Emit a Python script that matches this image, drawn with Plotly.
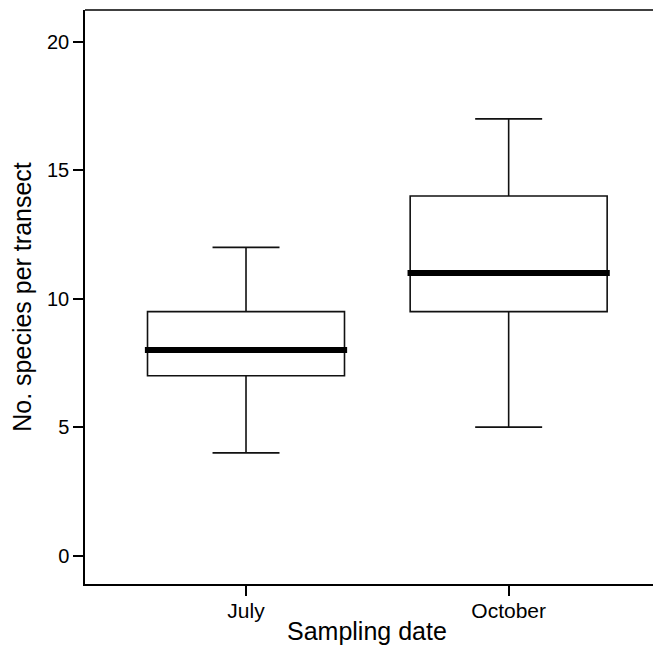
import plotly.graph_objects as go

categories = ["July", "October"]
positions = [1, 2]
lower_whisker = [4, 5]
q1 = [7, 9.5]
median = [8, 11]
q3 = [9.5, 14]
upper_whisker = [12, 17]
y_ticks = [0, 5, 10, 15, 20]

BOX_W = 0.75
FONT = "Liberation Sans, Arial, sans-serif"

fig = go.Figure()
for i, cat in enumerate(categories):
    fig.add_trace(go.Box(
        x=[positions[i]], q1=[q1[i]], median=[median[i]], q3=[q3[i]],
        lowerfence=[lower_whisker[i]], upperfence=[upper_whisker[i]],
        width=BOX_W, whiskerwidth=0.34, fillcolor="rgba(0,0,0,0)",
        line=dict(color="#111111", width=1.6), boxpoints=False,
        hoverinfo="skip", showlegend=False, name=cat,
    ))
    fig.add_trace(go.Scatter(
        x=[positions[i] - BOX_W / 2 - 0.01, positions[i] + BOX_W / 2 + 0.01],
        y=[median[i], median[i]], mode="lines",
        line=dict(color="black", width=6), hoverinfo="skip", showlegend=False,
    ))

fig.add_shape(type="line", xref="paper", yref="paper", x0=0, x1=1, y0=1, y1=1,
              line=dict(color="black", width=1.5))

fig.update_layout(
    width=653, height=639,
    margin=dict(l=77, r=0, t=2, b=63),
    paper_bgcolor="white", plot_bgcolor="white",
    font=dict(family=FONT, color="black", size=20),
    xaxis=dict(range=[0.387, 2.58], tickvals=positions, ticktext=categories,
               showline=True, linecolor="black", linewidth=1.5,
               ticks="outside", ticklen=10, tickwidth=1.5, tickcolor="black",
               showgrid=False, zeroline=False, tickfont=dict(size=21),
               ticklabelstandoff=-3),
    yaxis=dict(range=[-1.105, 21.24], tickvals=y_ticks,
               showline=True, linecolor="black", linewidth=1.5,
               ticks="outside", ticklen=10, tickwidth=1.5, tickcolor="black",
               showgrid=False, zeroline=False, tickfont=dict(size=20),
               title=dict(text="No. species per transect", font=dict(size=25), standoff=12)),
    annotations=[dict(text="Sampling date", xref="paper", yref="paper",
                      x=0.49, y=-0.082, xanchor="center", yanchor="middle",
                      showarrow=False, font=dict(size=25))],
)

fig.write_html("out.html")
